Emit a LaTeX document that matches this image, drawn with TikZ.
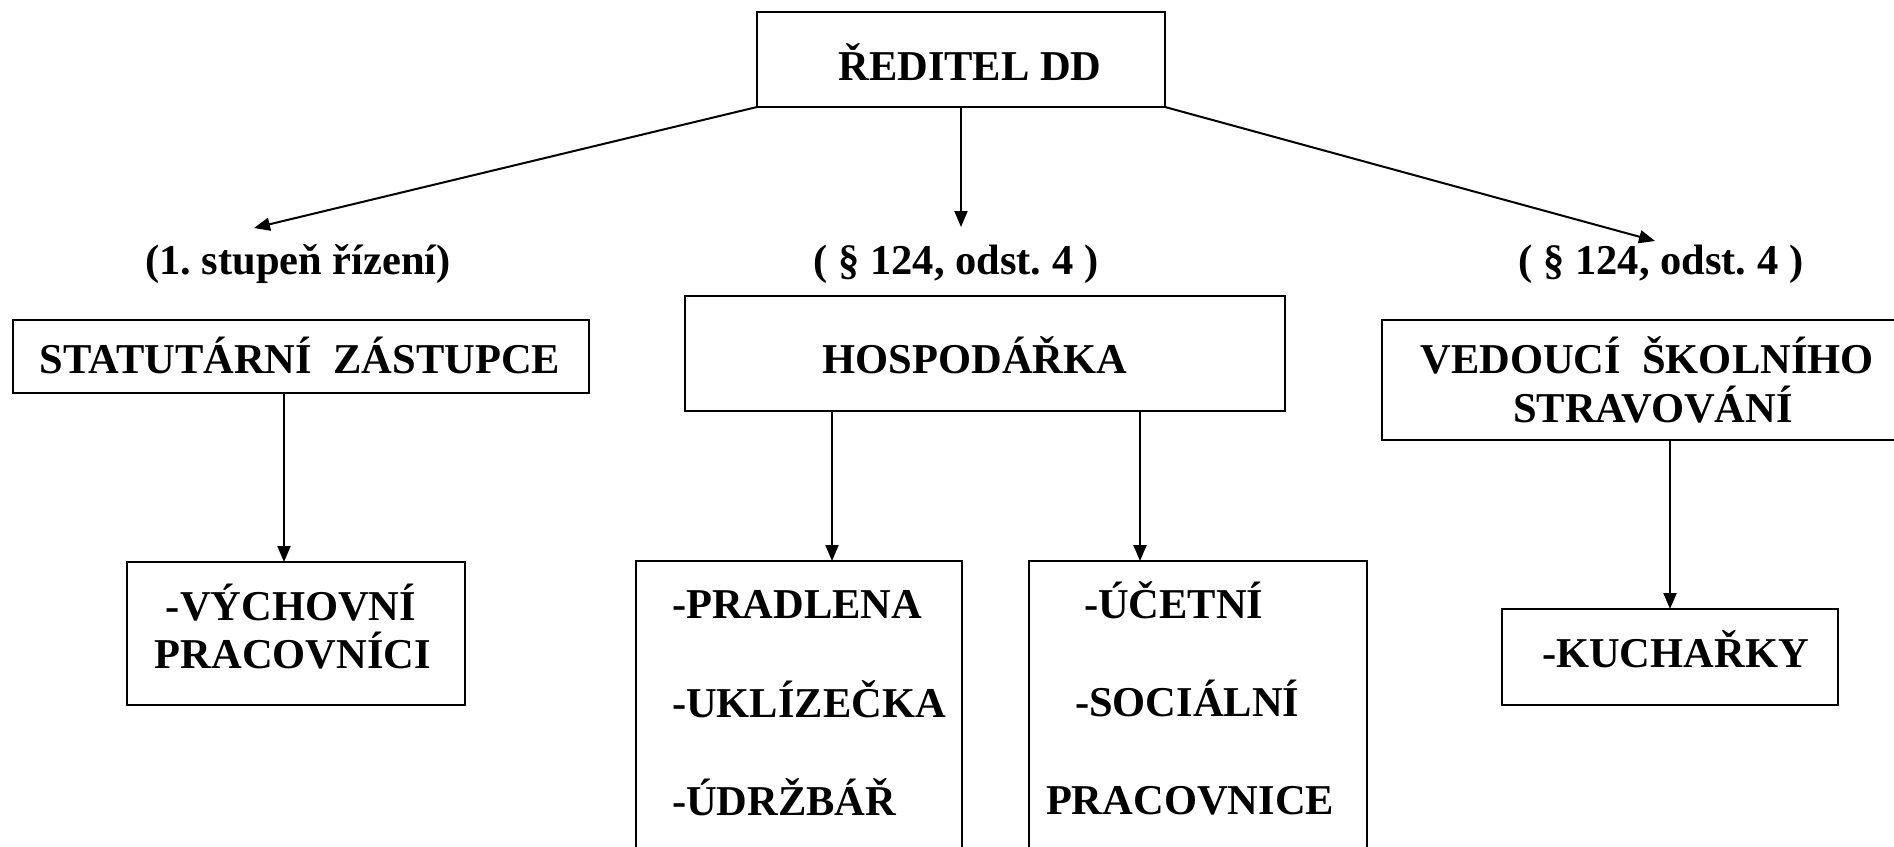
\documentclass[tikz,border=0pt]{standalone}
\usepackage{fontspec}
\setmainfont{Liberation Serif}
\usetikzlibrary{arrows.meta}
\frenchspacing
\begin{document}
\begin{tikzpicture}[x=1pt,y=-1pt,
  box/.style={draw=black,line width=2pt,rectangle,inner sep=0pt,outer sep=0pt},
  txt/.style={font=\fontsize{42.5}{48}\selectfont\bfseries\frenchspacing,inner sep=0pt,outer sep=0pt,text=black},
  arr/.style={draw=black,line width=2pt,-{Triangle[length=16pt,width=13pt]}}]
\useasboundingbox (0,0) rectangle (1894,846);
\clip (0,0) rectangle (1894,846);
\fill[white] (0,0) rectangle (1894,846);

% boxes
\node[box,minimum width=408pt,minimum height=95pt] (red) at (961,59.5) {};
\node[box,minimum width=576pt,minimum height=73pt] (stat) at (301,356.5) {};
\node[box,minimum width=600pt,minimum height=115pt] (hosp) at (985,353.5) {};
\node[box,minimum width=528pt,minimum height=120pt] (ved) at (1646,380) {};
\node[box,minimum width=338pt,minimum height=143pt] (vych) at (296,633.5) {};
\node[box,minimum width=326pt,minimum height=309pt] (prad) at (799,715.5) {};
\node[box,minimum width=338pt,minimum height=309pt] (ucet) at (1198,715.5) {};
\node[box,minimum width=336pt,minimum height=96pt] (kuch) at (1670,657) {};

% texts
\node[txt,anchor=base] (tred) at (970,80) {ŘEDITEL DD};
\node[txt,anchor=base] (l1) at (298,274) {(1. stupeň řízení)};
\node[txt,anchor=base] (l2) at (956,274) {( § 124, odst. 4 )};
\node[txt,anchor=base] (l3) at (1661,274) {( § 124, odst. 4 )};
\node[txt,anchor=base] (tstat) at (300,373) {STATUTÁRNÍ\ \ ZÁSTUPCE};
\node[txt,anchor=base] (thosp) at (975,373) {HOSPODÁŘKA};
\node[txt,anchor=base] (tved1) at (1647,373) {VEDOUCÍ\ \ ŠKOLNÍHO};
\node[txt,anchor=base] (tved2) at (1653,422) {STRAVOVÁNÍ};
\node[txt,anchor=base] (tvy1) at (291,620) {-VÝCHOVNÍ};
\node[txt,anchor=base] (tvy2) at (293,668) {PRACOVNÍCI};
\node[txt,anchor=base west] (tp1) at (672,618) {-PRADLENA};
\node[txt,anchor=base west] (tp2) at (672,717) {-UKLÍZEČKA};
\node[txt,anchor=base west] (tp3) at (672,815) {-ÚDRŽBÁŘ};
\node[txt,anchor=base west] (tu1) at (1084,618) {-ÚČETNÍ};
\node[txt,anchor=base west] (tu2) at (1075,716) {-SOCIÁLNÍ};
\node[txt,anchor=base west] (tu3) at (1046,814) {PRACOVNICE};
\node[txt,anchor=base west] (tk) at (1542,667) {-KUCHAŘKY};

% arrow ends and columns
\coordinate (a1) at (254,228);
\coordinate (a2) at (961,227);
\coordinate (a3) at (1655,241);
\coordinate (c1) at (284,0);
\coordinate (c2) at (832,0);
\coordinate (c3) at (1140,0);
\coordinate (c4) at (1670,0);

\draw[arr] (red.south west) -- (a1);
\draw[arr] (red.south) -- (a2);
\draw[arr] (red.south east) -- (a3);
\draw[arr] (stat.south -| c1) -- (vych.north -| c1);
\draw[arr] (hosp.south -| c2) -- (prad.north -| c2);
\draw[arr] (hosp.south -| c3) -- (ucet.north -| c3);
\draw[arr] (ved.south -| c4) -- (kuch.north -| c4);
\end{tikzpicture}
\end{document}
